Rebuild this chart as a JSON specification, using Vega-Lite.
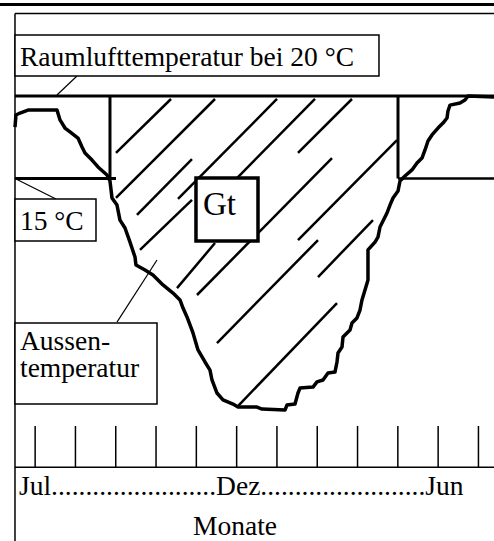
{
  "$schema": "https://vega.github.io/schema/vega-lite/v6.json",
  "width": 494,
  "height": 541,
  "autosize": {"type": "none"},
  "padding": 0,
  "background": "white",
  "config": {"view": {"stroke": null}},
  "datasets": {
    "curve": [
      {"i": 0, "m": 0, "T": 18.12}, {"i": 1, "m": 0.025, "T": 18.85}, {"i": 2, "m": 0.124, "T": 18.97},
      {"i": 3, "m": 0.323, "T": 19.15}, {"i": 4, "m": 1.042, "T": 19.15}, {"i": 5, "m": 1.117, "T": 18.55},
      {"i": 6, "m": 1.241, "T": 18.06}, {"i": 7, "m": 1.365, "T": 17.82}, {"i": 8, "m": 1.563, "T": 17.45},
      {"i": 9, "m": 1.663, "T": 16.91}, {"i": 10, "m": 1.737, "T": 16.55}, {"i": 11, "m": 1.911, "T": 16.12},
      {"i": 12, "m": 2.06, "T": 15.7}, {"i": 13, "m": 2.283, "T": 15.21}, {"i": 14, "m": 2.357, "T": 14.85},
      {"i": 15, "m": 2.407, "T": 13.82}, {"i": 16, "m": 2.531, "T": 13.39}, {"i": 17, "m": 2.605, "T": 12.48},
      {"i": 18, "m": 2.73, "T": 12.0}, {"i": 19, "m": 2.854, "T": 11.15}, {"i": 20, "m": 2.978, "T": 10.24},
      {"i": 21, "m": 3.002, "T": 9.76}, {"i": 22, "m": 3.226, "T": 9.45}, {"i": 23, "m": 3.424, "T": 9.15},
      {"i": 24, "m": 3.672, "T": 8.55}, {"i": 25, "m": 3.921, "T": 8.06}, {"i": 26, "m": 4.094, "T": 7.64},
      {"i": 27, "m": 4.169, "T": 7.15}, {"i": 28, "m": 4.268, "T": 6.61}, {"i": 29, "m": 4.417, "T": 5.64},
      {"i": 30, "m": 4.541, "T": 4.61}, {"i": 31, "m": 4.715, "T": 3.88}, {"i": 32, "m": 4.839, "T": 3.39},
      {"i": 33, "m": 4.888, "T": 2.79}, {"i": 34, "m": 5.012, "T": 2.0}, {"i": 35, "m": 5.161, "T": 1.58},
      {"i": 36, "m": 5.409, "T": 1.33}, {"i": 37, "m": 5.533, "T": 1.15}, {"i": 38, "m": 6.005, "T": 1.15},
      {"i": 39, "m": 6.129, "T": 1.03}, {"i": 40, "m": 6.7, "T": 0.97}, {"i": 41, "m": 6.749, "T": 1.27},
      {"i": 42, "m": 6.948, "T": 1.33}, {"i": 43, "m": 7.022, "T": 2.0}, {"i": 44, "m": 7.072, "T": 2.3},
      {"i": 45, "m": 7.395, "T": 2.36}, {"i": 46, "m": 7.494, "T": 2.67}, {"i": 47, "m": 7.643, "T": 2.79},
      {"i": 48, "m": 7.767, "T": 3.21}, {"i": 49, "m": 7.94, "T": 3.27}, {"i": 50, "m": 7.99, "T": 3.88},
      {"i": 51, "m": 8.015, "T": 4.42}, {"i": 52, "m": 8.114, "T": 4.79}, {"i": 53, "m": 8.139, "T": 5.39},
      {"i": 54, "m": 8.313, "T": 5.82}, {"i": 55, "m": 8.362, "T": 6.24}, {"i": 56, "m": 8.486, "T": 6.55},
      {"i": 57, "m": 8.561, "T": 7.03}, {"i": 58, "m": 8.61, "T": 7.64}, {"i": 59, "m": 8.685, "T": 8.24},
      {"i": 60, "m": 8.759, "T": 8.85}, {"i": 61, "m": 8.759, "T": 10.67}, {"i": 62, "m": 8.933, "T": 11.15},
      {"i": 63, "m": 9.007, "T": 11.45}, {"i": 64, "m": 9.057, "T": 12.06}, {"i": 65, "m": 9.231, "T": 12.91},
      {"i": 66, "m": 9.305, "T": 13.39}, {"i": 67, "m": 9.38, "T": 13.82}, {"i": 68, "m": 9.504, "T": 14.24},
      {"i": 69, "m": 9.553, "T": 14.85}, {"i": 70, "m": 9.677, "T": 15.15}, {"i": 71, "m": 9.851, "T": 15.52},
      {"i": 72, "m": 9.975, "T": 15.94}, {"i": 73, "m": 10.099, "T": 16.24}, {"i": 74, "m": 10.174, "T": 16.73},
      {"i": 75, "m": 10.248, "T": 17.27}, {"i": 76, "m": 10.347, "T": 17.64}, {"i": 77, "m": 10.496, "T": 18.06},
      {"i": 78, "m": 10.62, "T": 18.36}, {"i": 79, "m": 10.72, "T": 18.67}, {"i": 80, "m": 10.744, "T": 19.09},
      {"i": 81, "m": 10.794, "T": 19.45}, {"i": 82, "m": 11.042, "T": 19.58}, {"i": 83, "m": 11.166, "T": 19.76},
      {"i": 84, "m": 11.241, "T": 20.0}, {"i": 85, "m": 11.886, "T": 19.94}
    ],
    "lines": [
      {"kind": "thick", "m": -0.372, "T": 25.55, "m2": 11.886, "T2": 25.55},
      {"kind": "thick", "m": 0, "T": 20, "m2": 11.886, "T2": 20},
      {"kind": "thick", "m": 2.357, "T": 20, "m2": 2.357, "T2": 15},
      {"kind": "thick", "m": 0, "T": 15, "m2": 2.506, "T2": 15},
      {"kind": "thick", "m": 9.504, "T": 20, "m2": 9.504, "T2": 15},
      {"kind": "medium", "m": 9.504, "T": 15, "m2": 11.886, "T2": 15},
      {"kind": "thin", "m": 0, "T": 25, "m2": 0, "T2": -6.97},
      {"kind": "thin", "m": 0, "T": 25, "m2": 11.886, "T2": 25},
      {"kind": "thin", "m": 0, "T": -2.5, "m2": 11.886, "T2": -2.5},
      {"kind": "thin", "m": 0.5, "T": 0, "m2": 0.5, "T2": -2.5},
      {"kind": "thin", "m": 1.5, "T": 0, "m2": 1.5, "T2": -2.5},
      {"kind": "thin", "m": 2.5, "T": 0, "m2": 2.5, "T2": -2.5},
      {"kind": "thin", "m": 3.5, "T": 0, "m2": 3.5, "T2": -2.5},
      {"kind": "thin", "m": 4.5, "T": 0, "m2": 4.5, "T2": -2.5},
      {"kind": "thin", "m": 5.5, "T": 0, "m2": 5.5, "T2": -2.5},
      {"kind": "thin", "m": 6.5, "T": 0, "m2": 6.5, "T2": -2.5},
      {"kind": "thin", "m": 7.5, "T": 0, "m2": 7.5, "T2": -2.5},
      {"kind": "thin", "m": 8.5, "T": 0, "m2": 8.5, "T2": -2.5},
      {"kind": "thin", "m": 9.5, "T": 0, "m2": 9.5, "T2": -2.5},
      {"kind": "thin", "m": 10.5, "T": 0, "m2": 10.5, "T2": -2.5},
      {"kind": "thin", "m": 11.5, "T": 0, "m2": 11.5, "T2": -2.5},
      {"kind": "leader", "m": 1.538, "T": 21.21, "m2": 1.042, "T2": 20.06},
      {"kind": "leader", "m": 0, "T": 15, "m2": 1.017, "T2": 13.76},
      {"kind": "leader", "m": 2.531, "T": 6.3, "m2": 3.524, "T2": 10.06},
      {"kind": "hatch", "m": 2.506, "T": 16.55, "m2": 3.871, "T2": 19.82},
      {"kind": "hatch", "m": 2.506, "T": 13.82, "m2": 4.963, "T2": 19.82},
      {"kind": "hatch", "m": 3.027, "T": 12.79, "m2": 4.392, "T2": 16.18},
      {"kind": "hatch", "m": 4.045, "T": 13.76, "m2": 6.501, "T2": 19.82},
      {"kind": "hatch", "m": 5.509, "T": 15.03, "m2": 7.444, "T2": 19.82},
      {"kind": "hatch", "m": 7.022, "T": 16.55, "m2": 8.362, "T2": 19.82},
      {"kind": "hatch", "m": 3.102, "T": 10.67, "m2": 4.392, "T2": 13.7},
      {"kind": "hatch", "m": 4.02, "T": 8.36, "m2": 4.963, "T2": 11.09},
      {"kind": "hatch", "m": 4.516, "T": 7.94, "m2": 7.866, "T2": 16.24},
      {"kind": "hatch", "m": 7.022, "T": 11.27, "m2": 9.479, "T2": 17.33},
      {"kind": "hatch", "m": 5.012, "T": 5.03, "m2": 7.519, "T2": 11.27},
      {"kind": "hatch", "m": 7.519, "T": 9.03, "m2": 8.883, "T2": 12.48},
      {"kind": "hatch", "m": 5.509, "T": 1.15, "m2": 7.99, "T2": 7.45}
    ],
    "boxes": [
      {"kind": "thin", "m": 0, "T": 23.7, "m2": 9.032, "T2": 21.21},
      {"kind": "thin", "m": 0, "T": 13.76, "m2": 2.01, "T2": 11.21},
      {"kind": "thick", "m": 4.491, "T": 15.03, "m2": 6.03, "T2": 11.21},
      {"kind": "thin", "m": 0, "T": 6.24, "m2": 3.524, "T2": 1.33}
    ],
    "labels": [
      {"kind": "normal", "m": 0.124, "T": 21.82, "label": "Raumlufttemperatur bei 20 °C"},
      {"kind": "normal", "m": 0.124, "T": 11.88, "label": "15 °C"},
      {"kind": "big", "m": 4.665, "T": 12.79, "label": "Gt"},
      {"kind": "normal", "m": 0.124, "T": 4.61, "label": "Aussen-"},
      {"kind": "normal", "m": 0.124, "T": 2.94, "label": "temperatur"},
      {"kind": "normal", "m": 0.099, "T": -4.18, "label": "Jul........................Dez........................Jun"},
      {"kind": "normal", "m": 4.417, "T": -6.6, "label": "Monate"}
    ]
  },
  "encoding": {
    "x": {"field": "m", "type": "quantitative", "scale": {"domain": [-0.372, 11.886], "nice": false, "zero": false}, "axis": null},
    "y": {"field": "T", "type": "quantitative", "scale": {"domain": [-6.97, 25.82], "nice": false, "zero": false}, "axis": null}
  },
  "layer": [
    {
      "data": {"name": "lines"},
      "transform": [{"filter": "datum.kind == 'hatch'"}],
      "mark": {"type": "rule", "color": "black", "strokeWidth": 2.5},
      "encoding": {"x2": {"field": "m2"}, "y2": {"field": "T2"}}
    },
    {
      "data": {"name": "curve"},
      "mark": {"type": "line", "color": "black", "strokeWidth": 3.5, "strokeJoin": "round"},
      "encoding": {"order": {"field": "i", "type": "quantitative"}}
    },
    {
      "data": {"name": "lines"},
      "transform": [{"filter": "datum.kind == 'thick'"}],
      "mark": {"type": "rule", "color": "black", "strokeWidth": 3},
      "encoding": {"x2": {"field": "m2"}, "y2": {"field": "T2"}}
    },
    {
      "data": {"name": "lines"},
      "transform": [{"filter": "datum.kind == 'medium'"}],
      "mark": {"type": "rule", "color": "black", "strokeWidth": 2.5},
      "encoding": {"x2": {"field": "m2"}, "y2": {"field": "T2"}}
    },
    {
      "data": {"name": "lines"},
      "transform": [{"filter": "datum.kind == 'thin'"}],
      "mark": {"type": "rule", "color": "black", "strokeWidth": 1.5},
      "encoding": {"x2": {"field": "m2"}, "y2": {"field": "T2"}}
    },
    {
      "data": {"name": "lines"},
      "transform": [{"filter": "datum.kind == 'leader'"}],
      "mark": {"type": "rule", "color": "black", "strokeWidth": 1.2},
      "encoding": {"x2": {"field": "m2"}, "y2": {"field": "T2"}}
    },
    {
      "data": {"name": "boxes"},
      "transform": [{"filter": "datum.kind == 'thin'"}],
      "mark": {"type": "rect", "fill": "white", "stroke": "black", "strokeWidth": 1.5},
      "encoding": {"x2": {"field": "m2"}, "y2": {"field": "T2"}}
    },
    {
      "data": {"name": "boxes"},
      "transform": [{"filter": "datum.kind == 'thick'"}],
      "mark": {"type": "rect", "fill": "white", "stroke": "black", "strokeWidth": 3.5},
      "encoding": {"x2": {"field": "m2"}, "y2": {"field": "T2"}}
    },
    {
      "data": {"name": "labels"},
      "transform": [{"filter": "datum.kind == 'normal'"}],
      "mark": {"type": "text", "align": "left", "baseline": "alphabetic", "font": "Liberation Serif", "fontSize": 27.5, "color": "black"},
      "encoding": {"text": {"field": "label"}}
    },
    {
      "data": {"name": "labels"},
      "transform": [{"filter": "datum.kind == 'big'"}],
      "mark": {"type": "text", "align": "left", "baseline": "alphabetic", "font": "Liberation Serif", "fontSize": 33, "color": "black"},
      "encoding": {"text": {"field": "label"}}
    }
  ]
}
